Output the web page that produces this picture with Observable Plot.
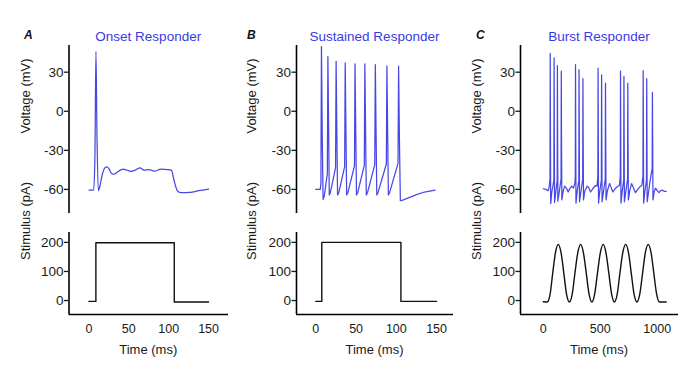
<!DOCTYPE html>
<html>
<head>
<meta charset="utf-8">
<script src="https://cdn.jsdelivr.net/npm/d3@7"></script>
<script src="https://cdn.jsdelivr.net/npm/@observablehq/plot@0.6"></script>
<style>
  html, body { margin: 0; padding: 0; background: #fff; }
  #fig { position: relative; width: 696px; height: 385px; overflow: hidden; background: #fff; }
  #fig svg { position: absolute; left: 0; top: 0; }
</style>
</head>
<body>
<div id="fig"></div>
<script>
// ---------- data ----------
const panelLetters = ["A", "B", "C"];
const panelTitles = ["Onset Responder", "Sustained Responder", "Burst Responder"];
const voltageTicks = [-60, -30, 0, 30];
const stimulusTicks = [0, 100, 200];
const timeTicksShort = [0, 50, 100, 150];
const timeTicksLong = [0, 500, 1000];
const voltageLabel = "Voltage (mV)";
const stimulusLabel = "Stimulus (pA)";
const timeLabel = "Time (ms)";

// [time ms, voltage mV]
const voltageA = [[0,-60.5],[6,-60.5],[7.5,-35],[8.8,46],[10,-15],[11.7,-61],[13.5,-58],[17,-48],[20,-43.5],[22.5,-42.7],[25,-44],[28,-47.5],[31.5,-48.3],[36,-46.5],[40,-45],[43.3,-44.5],[48,-45.3],[52.5,-46.1],[58,-45.2],[64,-43.4],[69,-45.2],[75,-44.9],[82.5,-46],[90,-44.5],[99,-44.8],[103.5,-45.4],[106.7,-53],[110.8,-61],[115,-62.5],[127,-62.3],[138,-61],[150,-59.8]];

const voltageB = [[0,-60],[5.5,-60],[6.3,-56],[7,49.7],[8,-20],[9,-67.6],[10.5,-65],[14.3,-48],[15,42],[16,-20],[16.7,-64.3],[18,-62.5],[24.5,-43.5],[25.2,38.4],[26.2,-20],[27,-64.3],[28.5,-62.5],[35.8,-42.5],[36.5,37.2],[37.5,-20],[38.3,-64.3],[39.8,-62.5],[48,-42],[48.7,36.4],[49.7,-20],[50.5,-64.3],[52,-62.5],[60.2,-41.5],[60.9,36.4],[61.9,-20],[62.7,-64.3],[64.2,-62.5],[73.2,-41],[73.9,35.9],[74.9,-20],[75.7,-64.3],[77.2,-62.5],[87.6,-40.5],[88.3,34.9],[89.3,-20],[90.1,-64.3],[91.6,-62.5],[102.1,-40],[102.8,34.6],[103.8,-20],[105,-68.7],[108,-68.2],[115,-66.5],[125,-64],[135,-62],[148,-60.5]];

const voltageC = [[0,-59.5],[25,-60],[42,-61],[52,-58],[59,-52],[61,44.5],[63,-20],[65,-71],[75,-62],[93,-53],[95,41],[97,-20],[99,-70],[110,-62],[122,-53],[124,35.1],[126,-20],[128,-69],[140,-62],[156,-52],[158,30.8],[160,-20],[163,-68],[175,-61],[188,-57.5],[203,-59],[218,-62],[235,-59],[250,-57.5],[265,-59],[278,-55],[281,-50],[283,35.9],[285,-20],[287,-70.5],[297,-62],[312,-53],[314,32],[316,-20],[318,-69.5],[330,-62],[346,-52],[348,25],[350,-20],[353,-68],[365,-61],[387,-57.5],[402,-59],[415,-62],[435,-59.5],[458,-57],[472,-57.5],[479,-50],[481,33.2],[483,-20],[485,-70.5],[495,-62],[510,-53],[512,28],[514,-20],[516,-69.5],[528,-62],[544,-52],[546,21.6],[548,-20],[551,-68],[563,-61],[582,-55.5],[597,-59],[611,-62],[630,-59.5],[649,-58],[668,-57],[676,-50],[678,30.8],[680,-20],[682,-70.5],[692,-62],[706,-53],[708,26.7],[710,-20],[712,-69.5],[724,-62],[740,-52],[742,21.6],[744,-20],[747,-68],[759,-61],[775,-55.5],[792,-59],[810,-62.5],[830,-60],[848,-58],[865,-57],[875,-50],[877,31.3],[879,-20],[881,-70.5],[891,-62],[906,-53],[908,25],[910,-20],[912,-69.5],[924,-62],[940,-52],[952,-46],[956,-44],[958,14.5],[960,-20],[963,-68],[973,-62],[985,-59],[1000,-61],[1015,-62.5],[1030,-61],[1044,-60.5],[1060,-61.5],[1079,-61.5]];

// [time ms, current pA]
const stimulusA = [[0,-3],[8.7,-3],[8.7,199],[107,199],[107,-5],[150,-5]];
const stimulusB = [[0,-3],[7.4,-3],[7.4,200],[105.7,200],[105.7,-3],[150,-3]];
const stimulusC = [[0,-4],[35,-5],[60,22],[83,95],[107,165],[131,193],[156,165],[180,95],[204,22],[229,-5],[254,22],[278,95],[303,165],[328,193],[352,165],[377,95],[402,22],[427,-5],[451,22],[476,95],[501,165],[526,193],[550,165],[575,95],[600,22],[624,-5],[649,22],[673,95],[698,165],[723,193],[748,165],[772,95],[797,22],[822,-5],[847,22],[872,95],[896,165],[921,193],[946,165],[970,95],[995,22],[1020,-5],[1079,-5]];

const voltageSeries = [voltageA, voltageB, voltageC];
const stimulusSeries = [stimulusA, stimulusB, stimulusC];
const timeTicks = [timeTicksShort, timeTicksShort, timeTicksLong];
const timeDomains = [[-25, 175], [-24, 171], [-200, 1187]];
const voltageDomain = [-78.5, 50.5];
const stimulusDomain = [-48, 234];

// ---------- layout ----------
const W = 696, H = 385;
const FONT = "'Liberation Sans', Arial, Helvetica, sans-serif";
const BLUE_LINE = "#4747e6";
const BLUE_TEXT = "#3a3ae2";
const cols = [{x0: 68.5, x1: 228, lab: 30, letter: 24}, {x0: 296, x1: 453, lab: 256, letter: 247}, {x0: 520, x1: 678, lab: 481, letter: 476}];
const VOLT = {y0: 45, y1: 213};
const STIM = {y0: 232, y1: 314};

function frame(x0, x1, y0, y1) {
  return {width: W, height: H, marginLeft: x0, marginRight: W - x1, marginTop: y0, marginBottom: H - y1};
}
const baseStyle = {background: "transparent", fontFamily: FONT, fontSize: "13px", color: "#1a1a1a", overflow: "visible"};
const fig = document.getElementById("fig");

cols.forEach((c, i) => {
  const volt = Plot.plot({
    ...frame(c.x0, c.x1, VOLT.y0, VOLT.y1),
    style: baseStyle,
    x: {domain: timeDomains[i], axis: null},
    y: {domain: voltageDomain},
    marks: [
      Plot.ruleX([timeDomains[i][0]], {stroke: "#000", strokeWidth: 1.6}),
      Plot.axisY({ticks: voltageTicks, tickSize: 4.5, tickPadding: 1, tickFormat: d => String(d), label: null, strokeWidth: 1.3, fontSize: 13.5}),
      Plot.line(voltageSeries[i], {x: d => d[0], y: d => d[1], stroke: BLUE_LINE, strokeWidth: 1.25, curve: i === 0 ? "monotone-x" : "linear"})
    ]
  });
  fig.appendChild(volt);

  const stim = Plot.plot({
    ...frame(c.x0, c.x1, STIM.y0, STIM.y1),
    style: baseStyle,
    x: {domain: timeDomains[i]},
    y: {domain: stimulusDomain},
    marks: [
      Plot.ruleX([timeDomains[i][0]], {stroke: "#000", strokeWidth: 1.6}),
      Plot.ruleY([stimulusDomain[0]], {stroke: "#000", strokeWidth: 1.6}),
      Plot.axisY({ticks: stimulusTicks, tickSize: 4.5, tickPadding: 1, tickFormat: d => String(d), label: null, strokeWidth: 1.3, fontSize: 13.5}),
      Plot.axisX({ticks: timeTicks[i], tickSize: 0, tickPadding: 9.5, tickFormat: d => String(d), label: null, fontSize: 12.5}),
      Plot.line(stimulusSeries[i], {x: d => d[0], y: d => d[1], stroke: "#111", strokeWidth: 1.4, curve: i === 2 ? "monotone-x" : "linear"})
    ]
  });
  fig.appendChild(stim);
});

// ---------- text overlay ----------
const svg = d3.select(fig).append("svg").attr("width", W).attr("height", H)
  .style("font-family", FONT);
cols.forEach((c, i) => {
  const cx = (c.x0 + c.x1) / 2;
  svg.append("text").attr("x", c.letter).attr("y", 38.5)
    .attr("font-size", 12).attr("font-weight", "bold").attr("font-style", "italic").attr("fill", "#111")
    .text(panelLetters[i]);
  svg.append("text").attr("x", cx).attr("y", 40.5).attr("text-anchor", "middle")
    .attr("font-size", 13.5).attr("fill", BLUE_TEXT).text(panelTitles[i]);
  svg.append("text").attr("transform", `translate(${c.lab},96) rotate(-90)`).attr("text-anchor", "middle")
    .attr("font-size", 13).attr("fill", "#1a1a1a").text(voltageLabel);
  svg.append("text").attr("transform", `translate(${c.lab},221) rotate(-90)`).attr("text-anchor", "middle")
    .attr("font-size", 13).attr("fill", "#1a1a1a").text(stimulusLabel);
  svg.append("text").attr("x", cx).attr("y", 353.5).attr("text-anchor", "middle")
    .attr("font-size", 13).attr("fill", "#1a1a1a").text(timeLabel);
});
</script>
</body>
</html>
